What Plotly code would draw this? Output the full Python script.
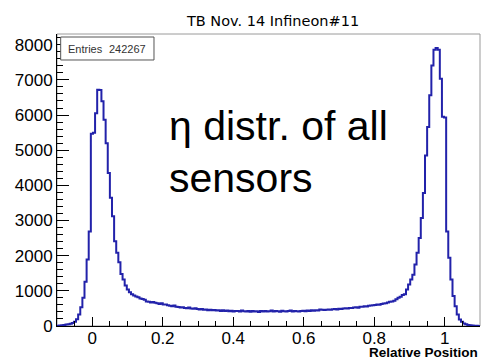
import numpy as np
import plotly.graph_objects as go

# Histogram binning of the relative hit position (eta)
x_min, x_max, n_bins = -0.1, 1.1, 200

# Bin contents, left to right
counts = [
    10, 15, 20, 30, 40, 50, 65, 85, 120, 190,
    330, 530, 800, 1260, 1890, 2690, 5470, 5500, 6050, 6720,
    6710, 6390, 5870, 5200, 4350, 3650, 3120, 2410, 2080, 1810,
    1480, 1320, 1150, 1040, 960, 900, 870, 840, 815, 780,
    765, 750, 700, 690, 665, 680, 660, 645, 625, 650,
    610, 615, 590, 575, 560, 580, 550, 540, 525, 535,
    515, 505, 525, 500, 490, 505, 480, 470, 485, 460,
    470, 450, 465, 445, 455, 440, 450, 430, 445, 425,
    440, 420, 435, 410, 430, 425, 415, 440, 420, 410,
    425, 405, 430, 415, 420, 400, 425, 415, 430, 410,
    420, 440, 415, 430, 420, 405, 435, 420, 410, 425,
    440, 415, 430, 420, 410, 425, 435, 420, 440, 430,
    445, 435, 450, 440, 470, 460, 455, 465, 470, 460,
    475, 480, 470, 490, 480, 495, 505, 500, 515, 510,
    525, 530, 520, 545, 550, 560, 555, 575, 580, 590,
    600, 610, 605, 625, 640, 650, 665, 690, 700, 720,
    760, 800, 830, 880, 900, 1040, 1180, 1320, 1460, 1750,
    2080, 2500, 3070, 3780, 4850, 5660, 6560, 7410, 7860, 7910,
    7860, 7030, 5950, 5930, 2690, 1940, 1320, 850, 560, 330,
    185, 120, 70, 50, 30, 20, 12, 8, 5, 3,
]

entries = 242267
title_text = "TB Nov. 14 Infineon#11"
x_title = "Relative Position"
note_lines = ["η distr. of all", "sensors"]

edges = np.linspace(x_min, x_max, n_bins + 1)
y_steps = counts + [counts[-1]]

ARIAL = "Liberation Sans, Arial, sans-serif"
LINE_BLUE = "#2222aa"

fig = go.Figure(
    go.Scatter(
        x=edges,
        y=y_steps,
        mode="lines",
        line=dict(shape="hv", color=LINE_BLUE, width=2),
        hoverinfo="skip",
        showlegend=False,
    )
)

axis_common = dict(
    showline=True,
    linecolor="black",
    linewidth=1,
    ticks="inside",
    tickcolor="black",
    tickwidth=1,
    showgrid=False,
    zeroline=False,
    tickfont=dict(family=ARIAL, size=17, color="black"),
)

fig.update_xaxes(
    range=[x_min, x_max],
    tick0=0,
    dtick=0.2,
    ticklen=9,
    ticklabelstandoff=-3,
    minor=dict(ticks="inside", ticklen=5, tick0=0, dtick=0.05, tickcolor="black", showgrid=False),
    **axis_common,
)
fig.update_yaxes(
    range=[0, 1.05 * max(counts)],
    tick0=0,
    dtick=1000,
    tickformat="d",
    ticklen=12,
    minor=dict(ticks="inside", ticklen=6, tick0=0, dtick=200, tickcolor="black", showgrid=False),
    **axis_common,
)

# Frame around the pad
fig.add_shape(
    type="rect", xref="paper", yref="paper", x0=0, x1=1, y0=0, y1=1,
    line=dict(color="#9a9a9a", width=1), layer="below",
)

# Statistics box
fig.add_shape(
    type="rect", xref="paper", yref="paper", x0=0.0087, x1=0.2293, y0=0.911, y1=0.9897,
    line=dict(color="#555555", width=1), fillcolor="white", layer="above",
)
fig.add_annotation(
    xref="paper", yref="paper", x=0.0213, y=0.948, xanchor="left", yanchor="middle",
    text="Entries", showarrow=False, font=dict(family=ARIAL, size=11, color="#333333"),
)
fig.add_annotation(
    xref="paper", yref="paper", x=0.2151, y=0.948, xanchor="right", yanchor="middle",
    text=str(entries), showarrow=False, font=dict(family=ARIAL, size=11, color="#333333"),
)

# Large note inside the pad
for yy, line in zip([0.685, 0.5068], note_lines):
    fig.add_annotation(
        xref="paper", yref="paper", x=0.2600, y=yy, xanchor="left", yanchor="middle",
        text=line, showarrow=False, font=dict(family=ARIAL, size=41, color="black"),
    )

# X-axis title, right aligned under the axis
fig.add_annotation(
    xref="paper", yref="paper", x=1.0, y=-0.09, xanchor="right", yanchor="middle",
    text=f"<b>{x_title}</b>", showarrow=False, font=dict(family=ARIAL, size=13.5, color="black"),
)

fig.update_layout(
    width=481,
    height=361,
    margin=dict(l=57, r=1, t=34, b=35, pad=0),
    paper_bgcolor="white",
    plot_bgcolor="white",
    title=dict(
        text=title_text,
        x=0.5676, xref="container", xanchor="center",
        y=1 - 21 / 361, yref="container", yanchor="middle",
        font=dict(family="DejaVu Sans, Verdana, sans-serif", size=14.5, color="black"),
    ),
    showlegend=False,
)

fig.write_html("out.html")
